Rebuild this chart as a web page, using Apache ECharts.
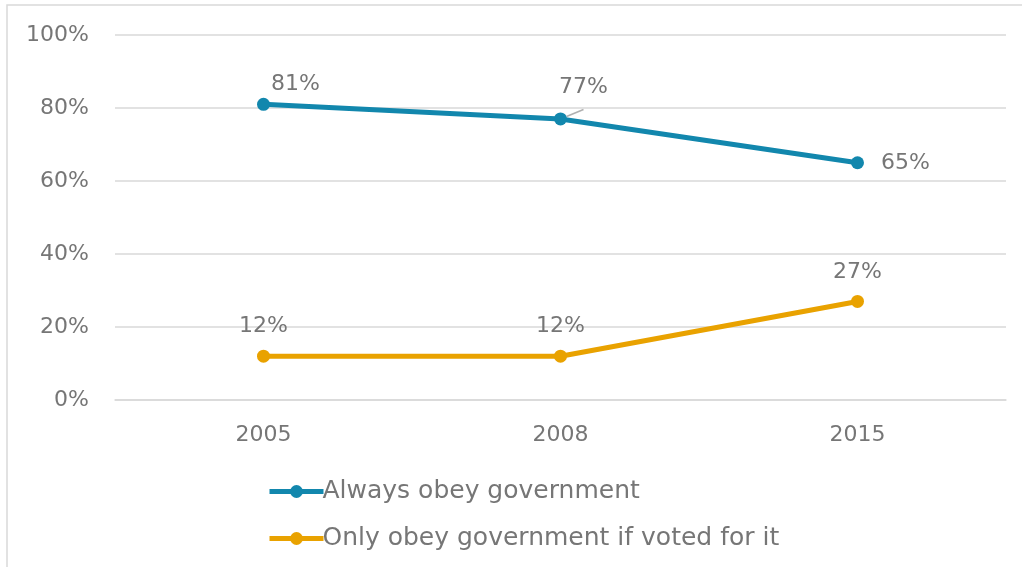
<!DOCTYPE html>
<html>
<head>
<meta charset="utf-8">
<script src="https://cdn.jsdelivr.net/npm/echarts@6/dist/echarts.min.js"></script>
<style>
  html, body { margin: 0; padding: 0; background: #fff; }
  #charts { width: 1022px; height: 567px; }
</style>
</head>
<body>
<div id="charts"></div>
<script>
var years = ['2005', '2008', '2015'];
var alwaysObey = [81, 77, 65];
var onlyIfVoted = [12, 12, 27];
var yTicks = [0, 20, 40, 60, 80, 100];

var textColor = '#767676';
var font = 'DejaVu Sans';

var myChart = echarts.init(document.getElementById('charts'));
var option = {
    backgroundColor: '#fff',
    textStyle: { fontFamily: font },
    graphic: [{
        type: 'rect',
        shape: { x: 7, y: 5, width: 1030, height: 600 },
        style: { fill: 'none', stroke: '#d9d9d9', lineWidth: 1.5 },
        silent: true
    }],
    grid: { left: 115, right: 16, top: 35, bottom: 167 },
    legend: {
        orient: 'vertical',
        left: 262,
        top: 474,
        itemWidth: 54,
        itemHeight: 16,
        itemGap: 22,
        lineStyle: { width: 5 },
        textStyle: { color: textColor, fontSize: 25, fontFamily: font, padding: [0, 0, 0, -6] },
        data: ['Always obey government', 'Only obey government if voted for it']
    },
    xAxis: {
        type: 'category',
        data: years,
        axisLine: { show: true, lineStyle: { color: '#d9d9d9', width: 1.5 } },
        axisTick: { show: false },
        axisLabel: { color: textColor, fontSize: 22, margin: 24, fontFamily: font }
    },
    yAxis: {
        type: 'value',
        min: 0,
        max: 100,
        interval: 20,
        axisLine: { show: false },
        axisTick: { show: false },
        axisLabel: {
            color: textColor, fontSize: 22, margin: 26, fontFamily: font,
            formatter: function (v) { return yTicks.indexOf(v) >= 0 ? v + '%' : ''; }
        },
        splitLine: { lineStyle: { color: '#d9d9d9', width: 1.5 } }
    },
    series: [
        {
            name: 'Always obey government',
            type: 'line',
            data: alwaysObey.map(function (v, i) {
                var lab = [
                    { position: 'top', offset: [32, 2] },
                    { position: 'top', offset: [23, -9] },
                    { position: 'right', offset: [12, 1] }
                ][i];
                return { value: v, label: lab, labelLine: { show: i === 1 } };
            }),
            color: '#1287ad',
            symbol: 'circle',
            symbolSize: 13,
            lineStyle: { width: 5 },
            label: {
                show: true,
                color: textColor,
                fontSize: 22,
                fontFamily: font,
                formatter: '{c}%'
            },
            labelLine: { lineStyle: { color: '#b0b0b0', width: 1.5 } },
            z: 3
        },
        {
            name: 'Only obey government if voted for it',
            type: 'line',
            data: onlyIfVoted,
            color: '#e9a200',
            symbol: 'circle',
            symbolSize: 13,
            lineStyle: { width: 5 },
            label: {
                show: true,
                position: 'top',
                distance: 12,
                color: textColor,
                fontSize: 22,
                fontFamily: font,
                formatter: '{c}%'
            }
        }
    ]
};
myChart.setOption(option);
</script>
</body>
</html>
